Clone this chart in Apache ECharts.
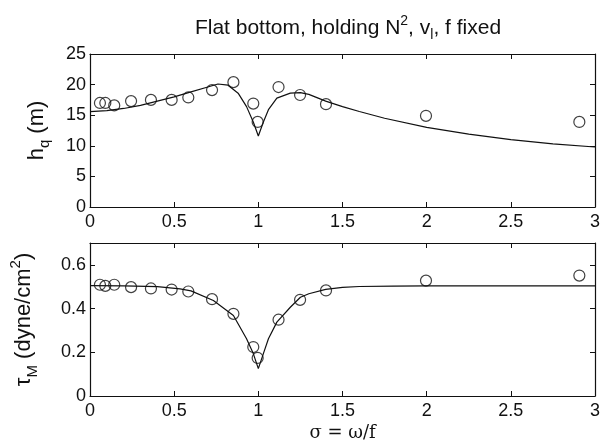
<!DOCTYPE html>
<html lang="en">
<head>
    <meta charset="utf-8">
    <title>Flat bottom</title>
    <script type="text/javascript" src="https://cdn.jsdelivr.net/npm/echarts@6/dist/echarts.min.js"></script>
    <style>
        html, body, #chart {
            width: 100%; height: 100%; margin: 0; padding: 0; overflow: hidden; background-color: #ffffff;
        }
    </style>
</head>
<body>
<div id="chart"></div>
<script type="text/javascript">
    // observed points (circles), same sigma for both panels
    var sigmaObs = [0.059, 0.091, 0.144, 0.244, 0.362, 0.485, 0.584, 0.725, 0.852, 0.97, 0.996, 1.12, 1.248, 1.402, 1.996, 2.907];
    var hqObs = [17.0, 17.0, 16.6, 17.3, 17.5, 17.5, 17.9, 19.1, 20.4, 16.9, 13.9, 19.6, 18.3, 16.8, 14.9, 13.9];
    var tauObs = [0.509, 0.504, 0.509, 0.498, 0.492, 0.487, 0.478, 0.443, 0.376, 0.224, 0.174, 0.349, 0.440, 0.483, 0.528, 0.551];

    // model curves
    var sigmaTop = [0, 0.1, 0.2, 0.3, 0.4, 0.5, 0.6, 0.7, 0.76, 0.82, 0.88, 0.93, 0.97, 1.0, 1.03, 1.06, 1.11, 1.19, 1.25, 1.3, 1.4, 1.5, 1.6, 1.75, 2.0, 2.25, 2.5, 2.75, 3.0];
    var hqCurve = [15.6, 15.75, 16.1, 16.6, 17.3, 18.0, 18.8, 19.6, 20.1, 19.9, 18.6, 16.4, 13.9, 11.6, 13.9, 15.9, 17.8, 18.6, 18.7, 18.4, 17.3, 16.4, 15.6, 14.5, 13.0, 11.9, 11.0, 10.3, 9.8];
    var sigmaBot = [0, 0.2, 0.4, 0.535, 0.6, 0.733, 0.852, 0.93, 0.97, 1.0, 1.03, 1.06, 1.11, 1.19, 1.25, 1.3, 1.4, 1.5, 1.6, 1.8, 2.0, 3.0];
    var tauCurve = [0.505, 0.504, 0.500, 0.490, 0.481, 0.437, 0.368, 0.262, 0.194, 0.125, 0.194, 0.262, 0.338, 0.406, 0.452, 0.468, 0.488, 0.497, 0.501, 0.503, 0.504, 0.504];

    function pairs(xs, ys) {
        var out = [];
        for (var i = 0; i < xs.length; i++) {
            out.push([xs[i], ys[i]]);
        }
        return out;
    }

    var font = 'Liberation Sans';
    var black = '#111';
    var lineStyle = {color: black, width: 1.2};
    var tickIn = {show: true, inside: true, length: 5, lineStyle: {color: black, width: 1}};

    function xAxisDef(idx, pos, labels, name) {
        return {
            type: 'value', gridIndex: idx, position: pos, min: 0, max: 3, interval: 0.5,
            axisLine: {show: true, onZero: false, lineStyle: lineStyle},
            axisTick: tickIn,
            splitLine: {show: false},
            axisLabel: {show: labels, color: black, fontFamily: font, fontSize: 18, margin: 6},
            name: name || '', nameLocation: 'middle', nameGap: 28,
            nameTextStyle: {color: black, fontFamily: 'DejaVu Serif', fontSize: 18}
        };
    }

    function yAxisDef(idx, pos, max, interval, labels, name, gap, rich) {
        return {
            type: 'value', gridIndex: idx, position: pos, min: 0, max: max, interval: interval,
            axisLine: {show: true, onZero: false, lineStyle: lineStyle},
            axisTick: tickIn,
            splitLine: {show: false},
            axisLabel: {show: labels, color: black, fontFamily: font, fontSize: 18, margin: 4,
                showMaxLabel: max !== 0.7 },
            name: name || '', nameLocation: 'middle', nameGap: gap || 0, nameRotate: 90,
            nameTextStyle: {color: black, fontFamily: font, fontSize: 22, rich: rich || {}}
        };
    }

    var richTop = {
        a: {fontFamily: font, fontSize: 22, color: black, lineHeight: 30, verticalAlign: 'middle'},
        s: {fontFamily: font, fontSize: 15, color: black, lineHeight: 30, verticalAlign: 'bottom'}
    };
    var richBot = {
        a: {fontFamily: font, fontSize: 22, color: black, lineHeight: 32, verticalAlign: 'middle'},
        s: {fontFamily: font, fontSize: 15, color: black, lineHeight: 32, verticalAlign: 'bottom'},
        p: {fontFamily: font, fontSize: 15, color: black, lineHeight: 32, verticalAlign: 'top'}
    };

    var chart = echarts.init(document.getElementById('chart'), null, {renderer: 'canvas'});

    chart.setOption({
        backgroundColor: '#ffffff',
        animation: false,
        title: {
            text: '{a|Flat bottom, holding N}{p|2}{a|, v}{s|l}{a|, f fixed}',
            left: 343, top: 9, textAlign: 'center',
            textStyle: {
                fontWeight: 'normal',
                rich: {
                    a: {fontFamily: font, fontSize: 21, fontWeight: 'normal', color: black, lineHeight: 28, verticalAlign: 'middle'},
                    p: {fontFamily: font, fontSize: 14, fontWeight: 'normal', color: black, lineHeight: 28, verticalAlign: 'top'},
                    s: {fontFamily: font, fontSize: 14, fontWeight: 'normal', color: black, lineHeight: 28, verticalAlign: 'bottom'}
                }
            }
        },
        grid: [
            {left: 90, top: 54, width: 505, height: 153, outerBoundsMode: 'none'},
            {left: 90, top: 243, width: 505, height: 153, outerBoundsMode: 'none'}
        ],
        xAxis: [
            xAxisDef(0, 'bottom', true),
            xAxisDef(0, 'top', false),
            xAxisDef(1, 'bottom', true, 'σ = ω/f'),
            xAxisDef(1, 'top', false)
        ],
        yAxis: [
            yAxisDef(0, 'left', 25, 5, true, '{a|h}{s|q}{a| (m)}', 38, richTop),
            yAxisDef(0, 'right', 25, 5, false),
            yAxisDef(1, 'left', 0.7, 0.2, true, '{a|τ}{s|M}{a| (dyne/cm}{p|2}{a|)}', 50, richBot),
            yAxisDef(1, 'right', 0.7, 0.2, false)
        ],
        series: [
            {
                type: 'line', xAxisIndex: 0, yAxisIndex: 0, data: pairs(sigmaTop, hqCurve),
                showSymbol: false, symbol: 'none', lineStyle: {color: black, width: 1.2}, z: 2
            },
            {
                type: 'scatter', xAxisIndex: 0, yAxisIndex: 0, data: pairs(sigmaObs, hqObs),
                symbol: 'circle', symbolSize: 11,
                itemStyle: {color: 'rgba(255,255,255,0)', borderColor: black, borderWidth: 1.2}, z: 3
            },
            {
                type: 'line', xAxisIndex: 2, yAxisIndex: 2, data: pairs(sigmaBot, tauCurve),
                showSymbol: false, symbol: 'none', lineStyle: {color: black, width: 1.2}, z: 2
            },
            {
                type: 'scatter', xAxisIndex: 2, yAxisIndex: 2, data: pairs(sigmaObs, tauObs),
                symbol: 'circle', symbolSize: 11,
                itemStyle: {color: 'rgba(255,255,255,0)', borderColor: black, borderWidth: 1.2}, z: 3
            }
        ]
    });
</script>
</body>
</html>
